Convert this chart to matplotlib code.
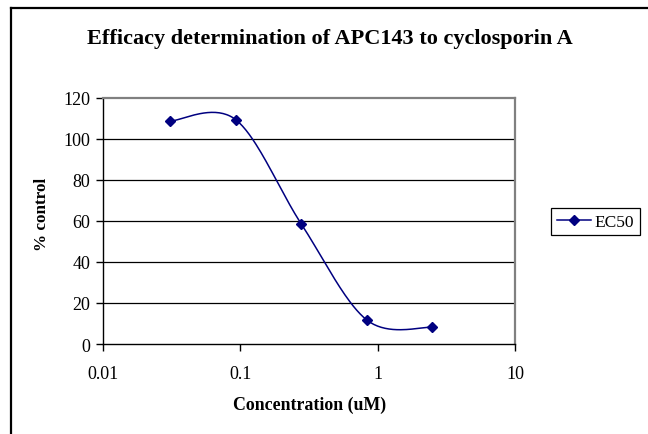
import numpy as np
import matplotlib
matplotlib.use("Agg")
import matplotlib.pyplot as plt
from matplotlib.lines import Line2D

# Data
concentration = [0.0309, 0.0926, 0.278, 0.833, 2.5]
pct_control = [108.5, 109.2, 58.4, 11.7, 8.1]
series_name = "EC50"
title = "Efficacy determination of APC143 to cyclosporin A"
xlabel = "Concentration (uM)"
ylabel = "% control"
yticks = [0, 20, 40, 60, 80, 100, 120]
xticks = [0.01, 0.1, 1, 10]
xticklabels = ["0.01", "0.1", "1", "10"]

W, H = 648, 435
fig = plt.figure(figsize=(W / 100, H / 100), dpi=100)
serif = ["Liberation Serif", "DejaVu Serif"]

# outer chart border (only top and left visible)
fig.add_artist(Line2D([10.5 / W, 1.0], [1 - 9 / H, 1 - 9 / H], color="black", lw=1.6,
                      transform=fig.transFigure))
fig.add_artist(Line2D([10.5 / W, 10.5 / W], [0.0, 1 - 9 / H], color="black", lw=1.6,
                      transform=fig.transFigure))

left, right, top, bottom = 103, 515, 98.5, 345
ax = fig.add_axes([left / W, 1 - bottom / H, (right - left) / W, (bottom - top) / H])

# Excel-style smoothed line: Bezier through points in (log x, y)
lx = np.log10(np.array(concentration))
yy = np.array(pct_control)
P = np.column_stack([lx, yy])
n = len(P)
curve = []
t = np.linspace(0, 1, 40)
for i in range(n - 1):
    p0 = P[max(i - 1, 0)]
    p1 = P[i]
    p2 = P[i + 1]
    p3 = P[min(i + 2, n - 1)]
    c1 = p1 + (p2 - p0) / 6.0
    c2 = p2 - (p3 - p1) / 6.0
    seg = ((1 - t) ** 3)[:, None] * p1 + (3 * (1 - t) ** 2 * t)[:, None] * c1 \
        + (3 * (1 - t) * t ** 2)[:, None] * c2 + (t ** 3)[:, None] * p2
    curve.append(seg if i == 0 else seg[1:])
curve = np.vstack(curve)

ax.plot(10 ** curve[:, 0], curve[:, 1], color="#000080", lw=1.1, zorder=3)
ax.plot(concentration, pct_control, linestyle="none", marker="D", ms=5.5,
        color="#000080", zorder=4)

ax.set_xscale("log")
ax.set_xlim(0.01, 10)
ax.set_ylim(0, 120)
ax.set_xticks(xticks)
ax.set_xticklabels(xticklabels)
ax.xaxis.set_minor_locator(matplotlib.ticker.NullLocator())
ax.set_yticks(yticks)

for v in yticks[1:-1]:
    ax.axhline(v, color="black", lw=0.9, zorder=1)

for s in ["top", "right"]:
    ax.spines[s].set_color("#808080")
    ax.spines[s].set_linewidth(1.6)
for s in ["left", "bottom"]:
    ax.spines[s].set_color("black")
    ax.spines[s].set_linewidth(1.0)

ax.tick_params(axis="both", direction="out", length=5, width=1, color="black",
               labelsize=13, pad=4)
for lab in ax.get_xticklabels() + ax.get_yticklabels():
    lab.set_fontfamily(serif)
ax.tick_params(axis="x", pad=10)

fig.text(330 / W, 1 - 39 / H, title, ha="center", va="center", fontsize=16,
         fontweight="bold", family=serif)
fig.text(310 / W, 1 - 405 / H, xlabel, ha="center", va="center", fontsize=12.9,
         fontweight="bold", family=serif)
fig.text(42 / W, 1 - 214 / H, ylabel, ha="center", va="center", fontsize=12.3,
         fontweight="bold", family=serif, rotation=90)

# legend
handle = Line2D([], [], color="#000080", lw=1.1, marker="D", ms=5.5)
leg = fig.legend([handle], [series_name], loc="center", bbox_to_anchor=(595.5 / W, 1 - 222.5 / H),
                 frameon=True, fancybox=False, edgecolor="black", framealpha=1,
                 prop={"family": serif, "size": 12.5}, handlelength=2.0,
                 handletextpad=0.2, borderpad=0.3, borderaxespad=0)
leg.get_frame().set_linewidth(0.9)

fig.savefig("out.png", dpi=100, facecolor="white")
